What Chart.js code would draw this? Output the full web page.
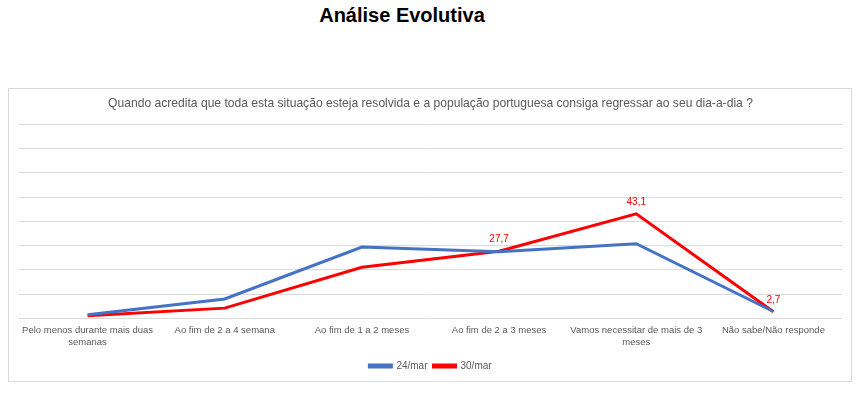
<!DOCTYPE html>
<html>
<head>
<meta charset="utf-8">
<script src="https://cdn.jsdelivr.net/npm/chart.js@4/dist/chart.umd.min.js"></script>
<style>
  body { margin: 0; background: #fff; width: 863px; height: 397px; position: relative; overflow: hidden; }
  #title { position: absolute; left: 0; width: 804px; top: 4px; text-align: center;
           font: bold 20px "Liberation Sans", Arial, sans-serif; color: #000; }
  #box { position: absolute; left: 8px; top: 88px; width: 842px; height: 292px; border: 1px solid #d9d9d9; }
  #box canvas { position: absolute; left: 0; top: 0; }
</style>
</head>
<body>
<div id="title">Análise Evolutiva</div>
<div id="box"><canvas id="myChart" width="842" height="292"></canvas></div>
<script>
var question = 'Quando acredita que toda esta situação esteja resolvida e a população portuguesa consiga regressar ao seu dia-a-dia ?';

var categories = [
    ['Pelo menos durante mais duas', 'semanas'],
    'Ao fim de 2 a 4 semana',
    'Ao fim de 1 a 2 meses',
    'Ao fim de 2 a 3 meses',
    ['Vamos necessitar de mais de 3', 'meses'],
    'Não sabe/Não responde'
];

var seriesNames = ['24/mar', '30/mar'];
var values24 = [1.5, 8.0, 29.4, 27.5, 30.8, 2.8];
var values30 = [1.1, 4.2, 21.1, 27.7, 43.1, 2.7];
// which points of 30/mar carry a value label
var labelled30 = [false, false, false, true, true, true];

var pointLabels = {
    id: 'pointLabels',
    afterDatasetsDraw: function(chart) {
        var ctx = chart.ctx,
            meta = chart.getDatasetMeta(1);

        ctx.save();
        ctx.font = '10px "Liberation Sans", Arial, sans-serif';
        ctx.fillStyle = '#ff0000';
        ctx.textAlign = 'center';
        ctx.textBaseline = 'middle';
        meta.data.forEach(function(pt, i) {
            if (!labelled30[i]) {
                return;
            }
            ctx.fillText(values30[i].toFixed(1).replace('.', ','), pt.x, pt.y - 12);
        });
        ctx.restore();
    }
};

new Chart(document.getElementById('myChart'), {
    type: 'line',
    data: {
        labels: categories,
        datasets: [
            {
                label: seriesNames[0],
                data: values24,
                borderColor: '#4472c4',
                backgroundColor: '#4472c4',
                borderWidth: 3,
                pointRadius: 0,
                tension: 0
            },
            {
                label: seriesNames[1],
                data: values30,
                borderColor: '#ff0000',
                backgroundColor: '#ff0000',
                borderWidth: 3,
                pointRadius: 0,
                tension: 0
            }
        ]
    },
    options: {
        responsive: false,
        animation: false,
        layout: { padding: { left: 10, right: 9, top: 7, bottom: 0 } },
        plugins: {
            title: {
                display: true,
                text: question,
                color: '#595959',
                font: { family: '"Liberation Sans", Arial, sans-serif', size: 12.1, weight: 'normal' },
                padding: { top: 0, bottom: 14 }
            },
            legend: {
                position: 'bottom',
                labels: {
                    boxWidth: 22,
                    boxHeight: 2,
                    color: '#595959',
                    padding: 6,
                    font: { family: '"Liberation Sans", Arial, sans-serif', size: 10 }
                }
            },
            tooltip: { enabled: false }
        },
        scales: {
            x: {
                offset: true,
                grid: { display: false, drawTicks: false },
                border: { display: false },
                ticks: {
                    color: '#595959',
                    maxRotation: 0,
                    autoSkip: false,
                    padding: 6,
                    font: { family: '"Liberation Sans", Arial, sans-serif', size: 9.5, lineHeight: 1.3 }
                }
            },
            y: {
                min: 0,
                max: 80,
                border: { display: false },
                grid: { color: '#d9d9d9', lineWidth: 1, drawTicks: false },
                ticks: { display: false, stepSize: 10 }
            }
        }
    },
    plugins: [pointLabels]
});
</script>
</body>
</html>
